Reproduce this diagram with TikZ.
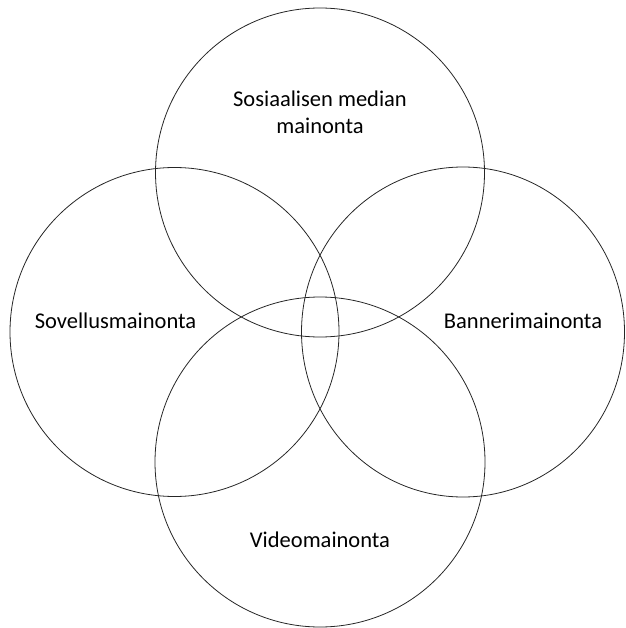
\documentclass[tikz,border=0pt]{standalone}
\usepackage{fontspec}
\setmainfont{Carlito}
\begin{document}
\begin{tikzpicture}[x=1pt,y=-1pt,
  ring/.style={draw=black!85, line width=0.8pt},
  lbl/.style={font=\fontsize{22.5}{27}\selectfont, text=black, align=center, inner sep=0pt}]
\useasboundingbox (0,0) rectangle (625,628);
\draw[ring] (320,172.5) circle [radius=164.5];
\draw[ring] (174.5,332) circle [radius=164.5];
\draw[ring] (463,332) ellipse [x radius=161.5, y radius=165];
\draw[ring] (320,462) circle [radius=165];
\node[lbl] (top) at (320,112) {Sosiaalisen median\\mainonta};
\node[lbl] (left) at (115.5,321) {Sovellusmainonta};
\node[lbl] (right) at (523,321) {Bannerimainonta};
\node[lbl] (bottom) at (320,540) {Videomainonta};
\end{tikzpicture}
\end{document}
